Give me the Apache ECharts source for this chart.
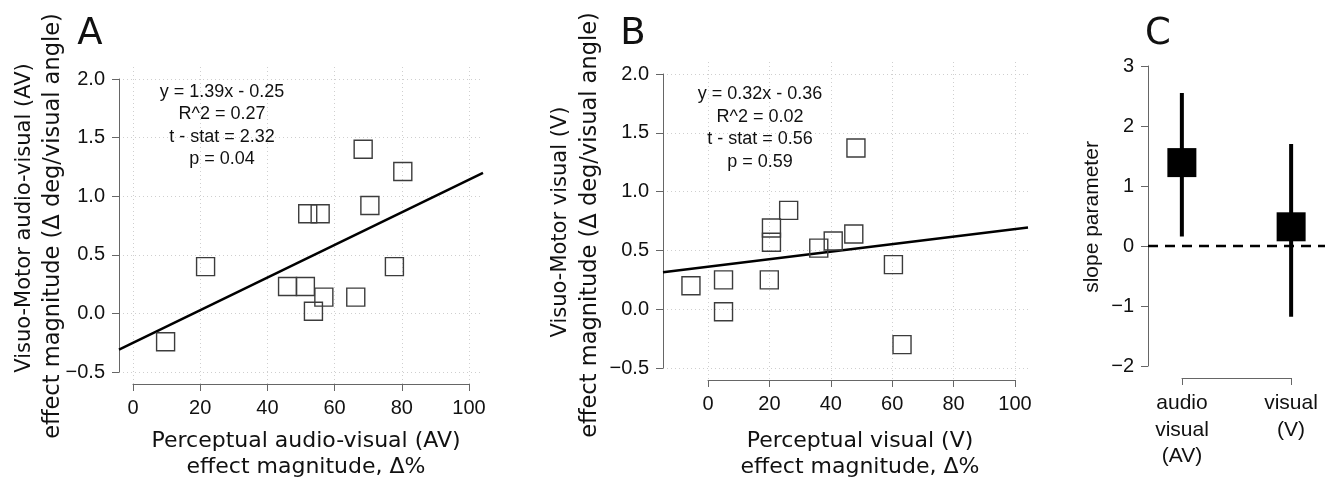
<!DOCTYPE html>
<html>
<head>
<meta charset="utf-8">
<script src="https://cdn.jsdelivr.net/npm/echarts@6/dist/echarts.min.js"></script>
<style>
  html, body { margin: 0; padding: 0; background: #fff; }
  #chart { width: 1329px; height: 482px; }
</style>
</head>
<body>
<div id="chart"></div>
<script>
// panel A: perceptual AV vs visuo-motor AV
const avX = [9.7, 21.6, 46.0, 51.3, 53.7, 56.8, 52.0, 55.7, 66.3, 68.5, 70.5, 77.8, 80.3]
const avY = [-0.24, 0.40, 0.23, 0.23, 0.02, 0.14, 0.85, 0.85, 0.14, 1.40, 0.92, 0.40, 1.21]
// panel B: perceptual V vs visuo-motor V
const vX = [-5.3, 5.3, 5.3, 20.2, 20.9, 20.9, 26.5, 36.3, 41.0, 47.7, 48.4, 60.6, 63.4]
const vY = [0.20, 0.25, -0.02, 0.25, 0.69, 0.57, 0.84, 0.52, 0.58, 0.64, 1.37, 0.38, -0.30]
// fitted lines (slope per 100 %)
const fitSlope = [1.39, 0.32]
const fitIntercept = [-0.25, 0.36]
const fitText = [
  'y = 1.39x - 0.25\nR^2 = 0.27\nt - stat = 2.32\np = 0.04',
  'y = 0.32x - 0.36\nR^2 = 0.02\nt - stat = 0.56\np = 0.59'
]
// panel C: slope estimates with intervals
const slopeCats = ['audio\nvisual\n(AV)', 'visual\n(V)']
const slopeMean = [1.39, 0.32]
const slopeLow = [0.16, -1.18]
const slopeHigh = [2.55, 1.70]

const xTicks = [0, 100, 20]
const yTicks = [-0.5, 2.0, 0.5]
const cTicks = [-2, 3, 1]

const tickFont = 'Liberation Sans'
const titleFont = 'DejaVu Sans'
const axisCol = '#666'
const gridLine = {show: true, lineStyle: {color: '#cfcfcf', width: 1, type: [1, 3]}}
const minus = s => String(s).replace('-', '\u2212')

const grids = []
const xAxes = []
const yAxes = []
const hidden = (min, max) => ({type: 'value', show: false, min, max})

function addGrid (box, xa, ya) {
  grids.push(Object.assign({outerBoundsMode: 'none', containLabel: false}, box))
  const i = grids.length - 1
  xAxes.push(Object.assign({gridIndex: i}, xa))
  yAxes.push(Object.assign({gridIndex: i}, ya))
  return i
}

function tickAxis (min, max, interval, split, fmt) {
  return {
    type: 'value', min, max, interval,
    axisLine: {show: true, lineStyle: {color: axisCol, width: 1}},
    axisTick: {show: true, length: 7, lineStyle: {color: axisCol}},
    axisLabel: {color: '#111', fontSize: 20, fontFamily: tickFont, margin: 14, formatter: fmt},
    splitLine: split ? gridLine : {show: false}
  }
}

// scatter panels: data grid + separate R-style axes
const panels = [
  {xs: avX, ys: avY, data: {left: 119, top: 67, width: 364, height: 317}, xr: [-4.167, 104.167],
    xBox: {left: 133, top: 67, width: 336, height: 317}, yBox: {left: 119, top: 79, width: 364, height: 293}},
  {xs: vX, ys: vY, data: {left: 663, top: 62, width: 365, height: 318}, xr: [-14.4, 104.4],
    xBox: {left: 708, top: 62, width: 307, height: 318}, yBox: {left: 663, top: 74, width: 365, height: 294}}
]
const series = []
panels.forEach((p, k) => {
  const yr = [-0.6, 2.1]
  const d = addGrid(p.data, hidden(p.xr[0], p.xr[1]), hidden(yr[0], yr[1]))
  addGrid(p.xBox, tickAxis(xTicks[0], xTicks[1], xTicks[2], true), hidden(0, 1))
  addGrid(p.yBox, hidden(0, 1), tickAxis(yTicks[0], yTicks[1], yTicks[2], true, v => minus(v.toFixed(1))))
  const fy = x => fitSlope[k] * x / 100 + fitIntercept[k]
  series.push({
    type: 'line', xAxisIndex: d, yAxisIndex: d, symbol: 'none', silent: true, z: 3,
    lineStyle: {color: '#000', width: 2.5},
    data: [[p.xr[0], fy(p.xr[0])], [p.xr[1], fy(p.xr[1])]]
  })
  series.push({
    type: 'scatter', xAxisIndex: d, yAxisIndex: d, symbol: 'rect', symbolSize: 18, z: 4,
    itemStyle: {color: 'rgba(0,0,0,0)', borderColor: '#3c3c3c', borderWidth: 1.4, opacity: 1},
    data: p.xs.map((x, i) => [x, p.ys[i]])
  })
})

// panel C
const cx = [0.69, 2.31]
const cy = [-2.2, 3.2]
const c = addGrid({left: 1148, top: 54, width: 177, height: 324}, hidden(cx[0], cx[1]), hidden(cy[0], cy[1]))
const catAxis = tickAxis(1, 2, 1, false)
catAxis.axisLabel = {color: '#111', fontSize: 21, fontFamily: tickFont, margin: 12, lineHeight: 26.5,
  formatter: v => slopeCats[v - 1]}
addGrid({left: 1182, top: 54, width: 109, height: 324}, catAxis, hidden(0, 1))
addGrid({left: 1148, top: 66, width: 177, height: 300}, hidden(0, 1),
  tickAxis(cTicks[0], cTicks[1], cTicks[2], false, v => minus(v)))

series.push({
  type: 'line', xAxisIndex: c, yAxisIndex: c, symbol: 'none', silent: true, z: 2,
  lineStyle: {color: '#000', width: 2.5, type: [10, 7]},
  data: [[cx[0], 0], [cx[1], 0]]
})
series.push({
  type: 'custom', xAxisIndex: c, yAxisIndex: c, z: 3,
  renderItem (params, api) {
    const a = api.coord([api.value(0), api.value(1)])
    const b = api.coord([api.value(0), api.value(2)])
    return {type: 'line', shape: {x1: a[0], y1: a[1], x2: b[0], y2: b[1]}, style: {stroke: '#000', lineWidth: 4}}
  },
  data: slopeMean.map((m, i) => [i + 1, slopeLow[i], slopeHigh[i]])
})
series.push({
  type: 'scatter', xAxisIndex: c, yAxisIndex: c, symbol: 'rect', symbolSize: 29, z: 4,
  itemStyle: {color: '#000', opacity: 1},
  data: slopeMean.map((m, i) => [i + 1, m])
})

function txt (text, x, y, size, family, rot, lh) {
  return {
    type: 'text', x, y, rotation: rot || 0, z: 10,
    style: {
      text, x: 0, y: 0, fill: '#111', font: size + 'px "' + family + '"',
      align: 'center', verticalAlign: 'middle', textAlign: 'center', textVerticalAlign: 'middle',
      lineHeight: lh || size
    }
  }
}
const up = Math.PI / 2
const graphics = [
  txt('A', 90, 34, 37, titleFont),
  txt('B', 633, 34, 37, titleFont),
  txt('C', 1158, 34, 37, titleFont),
  txt(fitText[0], 222, 125.5, 18, tickFont, 0, 22.5),
  txt(fitText[1], 760, 128, 18, tickFont, 0, 22.5),
  txt('Visuo-Motor audio-visual (AV)', 25, 218, 21, titleFont, up),
  txt('effect magnitude (\u0394 deg/visual angle)', 53, 226, 22.5, titleFont, up),
  txt('Perceptual audio-visual (AV)', 306, 441, 22, titleFont),
  txt('effect magnitude, \u0394%', 306, 467, 22, titleFont),
  txt('Visuo-Motor visual (V)', 561, 222, 21, titleFont, up),
  txt('effect magnitude (\u0394 deg/visual angle)', 590, 225, 22.5, titleFont, up),
  txt('Perceptual visual (V)', 860, 441, 22, titleFont),
  txt('effect magnitude, \u0394%', 860, 467, 22, titleFont),
  txt('slope parameter', 1092, 217, 21, tickFont, up)
]

const chart = echarts.init(document.getElementById('chart'), null, {renderer: 'canvas'})
chart.setOption({
  animation: false,
  backgroundColor: '#fff',
  grid: grids,
  xAxis: xAxes,
  yAxis: yAxes,
  series: series,
  graphic: graphics
})
</script>
</body>
</html>
